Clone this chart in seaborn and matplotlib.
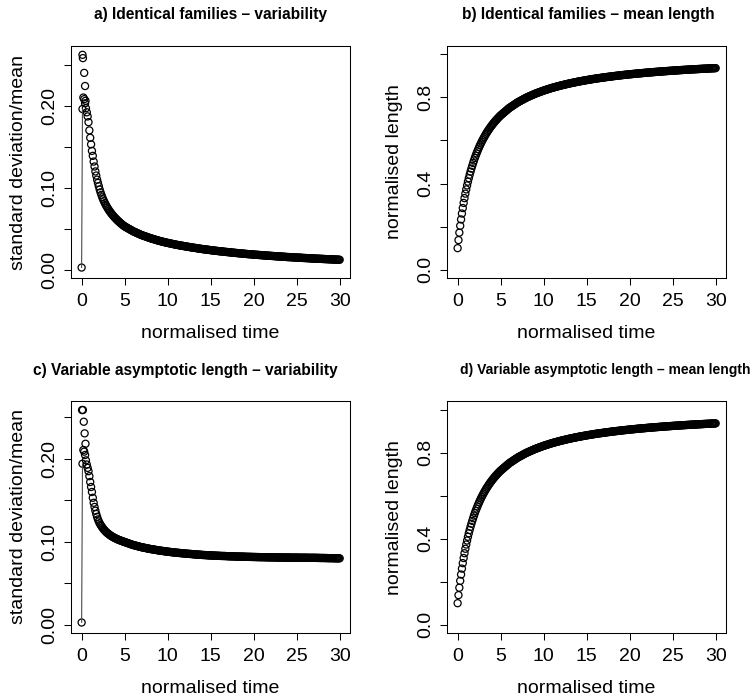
import matplotlib
matplotlib.use("Agg")
import matplotlib.pyplot as plt
import seaborn as sns

# ---------------- data ----------------
time = [
    0.0, 0.1, 0.2, 0.3, 0.4, 0.5, 0.6, 0.7, 0.8, 0.9,
    1.0, 1.1, 1.2, 1.3, 1.4, 1.5, 1.6, 1.7, 1.8, 1.9,
    2.0, 2.1, 2.2, 2.3, 2.4, 2.5, 2.6, 2.7, 2.8, 2.9,
    3.0, 3.1, 3.2, 3.3, 3.4, 3.5, 3.6, 3.7, 3.8, 3.9,
    4.0, 4.1, 4.2, 4.3, 4.4, 4.5, 4.6, 4.7, 4.8, 4.9,
    5.0, 5.1, 5.2, 5.3, 5.4, 5.5, 5.6, 5.7, 5.8, 5.9,
    6.0, 6.1, 6.2, 6.3, 6.4, 6.5, 6.6, 6.7, 6.8, 6.9,
    7.0, 7.1, 7.2, 7.3, 7.4, 7.5, 7.6, 7.7, 7.8, 7.9,
    8.0, 8.1, 8.2, 8.3, 8.4, 8.5, 8.6, 8.7, 8.8, 8.9,
    9.0, 9.1, 9.2, 9.3, 9.4, 9.5, 9.6, 9.7, 9.8, 9.9,
    10.0, 10.1, 10.2, 10.3, 10.4, 10.5, 10.6, 10.7, 10.8, 10.9,
    11.0, 11.1, 11.2, 11.3, 11.4, 11.5, 11.6, 11.7, 11.8, 11.9,
    12.0, 12.1, 12.2, 12.3, 12.4, 12.5, 12.6, 12.7, 12.8, 12.9,
    13.0, 13.1, 13.2, 13.3, 13.4, 13.5, 13.6, 13.7, 13.8, 13.9,
    14.0, 14.1, 14.2, 14.3, 14.4, 14.5, 14.6, 14.7, 14.8, 14.9,
    15.0, 15.1, 15.2, 15.3, 15.4, 15.5, 15.6, 15.7, 15.8, 15.9,
    16.0, 16.1, 16.2, 16.3, 16.4, 16.5, 16.6, 16.7, 16.8, 16.9,
    17.0, 17.1, 17.2, 17.3, 17.4, 17.5, 17.6, 17.7, 17.8, 17.9,
    18.0, 18.1, 18.2, 18.3, 18.4, 18.5, 18.6, 18.7, 18.8, 18.9,
    19.0, 19.1, 19.2, 19.3, 19.4, 19.5, 19.6, 19.7, 19.8, 19.9,
    20.0, 20.1, 20.2, 20.3, 20.4, 20.5, 20.6, 20.7, 20.8, 20.9,
    21.0, 21.1, 21.2, 21.3, 21.4, 21.5, 21.6, 21.7, 21.8, 21.9,
    22.0, 22.1, 22.2, 22.3, 22.4, 22.5, 22.6, 22.7, 22.8, 22.9,
    23.0, 23.1, 23.2, 23.3, 23.4, 23.5, 23.6, 23.7, 23.8, 23.9,
    24.0, 24.1, 24.2, 24.3, 24.4, 24.5, 24.6, 24.7, 24.8, 24.9,
    25.0, 25.1, 25.2, 25.3, 25.4, 25.5, 25.6, 25.7, 25.8, 25.9,
    26.0, 26.1, 26.2, 26.3, 26.4, 26.5, 26.6, 26.7, 26.8, 26.9,
    27.0, 27.1, 27.2, 27.3, 27.4, 27.5, 27.6, 27.7, 27.8, 27.9,
    28.0, 28.1, 28.2, 28.3, 28.4, 28.5, 28.6, 28.7, 28.8, 28.9,
    29.0, 29.1, 29.2, 29.3, 29.4, 29.5, 29.6, 29.7, 29.8, 29.9,
    30.0,
]

# a) identical families: standard deviation / mean
cv_identical = [
    0.003, 0.196, 0.210, 0.208, 0.203, 0.197, 0.192, 0.187, 0.180, 0.170,
    0.161, 0.153, 0.145, 0.139, 0.132, 0.126, 0.120, 0.115, 0.110, 0.106,
    0.102, 0.098, 0.0945, 0.0915, 0.0885, 0.0860, 0.0837, 0.0815, 0.0795, 0.0776,
    0.0758, 0.0741, 0.0725, 0.0710, 0.0696, 0.0682, 0.0669, 0.0657, 0.0645, 0.0634,
    0.0623, 0.0612, 0.0602, 0.0592, 0.0582, 0.0573, 0.0564, 0.0555, 0.0547, 0.0539,
    0.0531, 0.0525, 0.0519, 0.0513, 0.0507, 0.0501, 0.0495, 0.0489, 0.0483, 0.0477,
    0.0471, 0.0466, 0.0462, 0.0457, 0.0452, 0.0447, 0.0443, 0.0438, 0.0433, 0.0428,
    0.0424, 0.0420, 0.0417, 0.0413, 0.0410, 0.0406, 0.0402, 0.0398, 0.0395, 0.0391,
    0.0387, 0.0384, 0.0381, 0.0378, 0.0375, 0.0371, 0.0368, 0.0365, 0.0362, 0.0359,
    0.0356, 0.0353, 0.0351, 0.0348, 0.0345, 0.0342, 0.0340, 0.0337, 0.0335, 0.0332,
    0.0330, 0.0328, 0.0326, 0.0323, 0.0321, 0.0319, 0.0317, 0.0314, 0.0312, 0.0310,
    0.0308, 0.0306, 0.0304, 0.0302, 0.0300, 0.0298, 0.0297, 0.0295, 0.0293, 0.0291,
    0.0289, 0.0287, 0.0286, 0.0284, 0.0282, 0.0280, 0.0279, 0.0277, 0.0275, 0.0273,
    0.0272, 0.0270, 0.0269, 0.0267, 0.0266, 0.0264, 0.0262, 0.0260, 0.0259, 0.0257,
    0.0256, 0.0254, 0.0253, 0.0251, 0.0250, 0.0249, 0.0248, 0.0246, 0.0245, 0.0243,
    0.0242, 0.0240, 0.0239, 0.0238, 0.0237, 0.0235, 0.0234, 0.0233, 0.0232, 0.0230,
    0.0229, 0.0228, 0.0227, 0.0226, 0.0225, 0.0223, 0.0222, 0.0221, 0.0220, 0.0219,
    0.0218, 0.0217, 0.0216, 0.0214, 0.0213, 0.0212, 0.0211, 0.0210, 0.0209, 0.0208,
    0.0207, 0.0206, 0.0205, 0.0204, 0.0203, 0.0202, 0.0201, 0.0200, 0.0199, 0.0198,
    0.0197, 0.0196, 0.0195, 0.0194, 0.0193, 0.0192, 0.0192, 0.0191, 0.0190, 0.0189,
    0.0188, 0.0187, 0.0186, 0.0185, 0.0185, 0.0184, 0.0183, 0.0182, 0.0182, 0.0181,
    0.0180, 0.0179, 0.0178, 0.0177, 0.0177, 0.0176, 0.0175, 0.0174, 0.0174, 0.0173,
    0.0172, 0.0171, 0.0171, 0.0170, 0.0169, 0.0168, 0.0168, 0.0167, 0.0166, 0.0165,
    0.0165, 0.0164, 0.0164, 0.0163, 0.0162, 0.0161, 0.0161, 0.0160, 0.0159, 0.0158,
    0.0158, 0.0157, 0.0157, 0.0156, 0.0156, 0.0155, 0.0154, 0.0153, 0.0153, 0.0152,
    0.0152, 0.0151, 0.0151, 0.0150, 0.0150, 0.0149, 0.0148, 0.0147, 0.0147, 0.0146,
    0.0146, 0.0145, 0.0145, 0.0144, 0.0144, 0.0143, 0.0142, 0.0141, 0.0141, 0.0140,
    0.0140, 0.0139, 0.0139, 0.0138, 0.0138, 0.0137, 0.0137, 0.0136, 0.0136, 0.0135,
    0.0135, 0.0134, 0.0134, 0.0133, 0.0133, 0.0132, 0.0132, 0.0131, 0.0131, 0.0130,
    0.0130, 0.0129, 0.0129, 0.0128, 0.0128, 0.0127, 0.0127, 0.0126, 0.0126, 0.0125,
    0.0125,
]

# c) variable asymptotic length: standard deviation / mean
cv_variable = [
    0.003, 0.194, 0.2105, 0.2085, 0.2045, 0.198, 0.193, 0.189, 0.185, 0.179,
    0.172, 0.166, 0.160, 0.153, 0.147, 0.142, 0.1375, 0.1335, 0.130, 0.127,
    0.1245, 0.1223, 0.1205, 0.1189, 0.1174, 0.1160, 0.1147, 0.1135, 0.1124, 0.1114,
    0.1105, 0.1097, 0.1089, 0.1081, 0.1074, 0.1067, 0.1061, 0.1055, 0.1049, 0.1044,
    0.1039, 0.1034, 0.1029, 0.1025, 0.1021, 0.1017, 0.1013, 0.1009, 0.1005, 0.1002,
    0.0998, 0.0994, 0.0991, 0.0987, 0.0984, 0.0980, 0.0976, 0.0972, 0.0969, 0.0965,
    0.0962, 0.0959, 0.0957, 0.0954, 0.0951, 0.0948, 0.0946, 0.0943, 0.0940, 0.0937,
    0.0935, 0.0933, 0.0931, 0.0929, 0.0927, 0.0924, 0.0922, 0.0920, 0.0918, 0.0916,
    0.0914, 0.0912, 0.0911, 0.0909, 0.0907, 0.0905, 0.0904, 0.0902, 0.0900, 0.0898,
    0.0897, 0.0895, 0.0894, 0.0892, 0.0891, 0.0889, 0.0888, 0.0886, 0.0885, 0.0883,
    0.0882, 0.0881, 0.0880, 0.0878, 0.0877, 0.0876, 0.0875, 0.0873, 0.0872, 0.0871,
    0.0870, 0.0869, 0.0868, 0.0867, 0.0866, 0.0865, 0.0864, 0.0863, 0.0862, 0.0861,
    0.0860, 0.0859, 0.0858, 0.0857, 0.0856, 0.0855, 0.0855, 0.0854, 0.0853, 0.0852,
    0.0851, 0.0850, 0.0849, 0.0848, 0.0848, 0.0847, 0.0846, 0.0845, 0.0845, 0.0844,
    0.0843, 0.0842, 0.0842, 0.0841, 0.0841, 0.0840, 0.0839, 0.0838, 0.0838, 0.0837,
    0.0837, 0.0836, 0.0836, 0.0835, 0.0835, 0.0834, 0.0834, 0.0833, 0.0833, 0.0832,
    0.0832, 0.0831, 0.0831, 0.0830, 0.0830, 0.0830, 0.0830, 0.0829, 0.0829, 0.0828,
    0.0828, 0.0827, 0.0827, 0.0826, 0.0826, 0.0826, 0.0826, 0.0825, 0.0825, 0.0824,
    0.0824, 0.0823, 0.0823, 0.0823, 0.0823, 0.0822, 0.0822, 0.0822, 0.0822, 0.0821,
    0.0821, 0.0820, 0.0820, 0.0820, 0.0820, 0.0819, 0.0819, 0.0819, 0.0819, 0.0818,
    0.0818, 0.0818, 0.0818, 0.0817, 0.0817, 0.0817, 0.0817, 0.0816, 0.0816, 0.0816,
    0.0816, 0.0816, 0.0816, 0.0815, 0.0815, 0.0815, 0.0815, 0.0814, 0.0814, 0.0814,
    0.0814, 0.0814, 0.0814, 0.0813, 0.0813, 0.0813, 0.0813, 0.0812, 0.0812, 0.0812,
    0.0812, 0.0812, 0.0812, 0.0812, 0.0812, 0.0811, 0.0811, 0.0811, 0.0811, 0.0811,
    0.0811, 0.0811, 0.0811, 0.0810, 0.0810, 0.0810, 0.0810, 0.0810, 0.0810, 0.0810,
    0.0810, 0.0810, 0.0810, 0.0809, 0.0809, 0.0809, 0.0809, 0.0809, 0.0809, 0.0809,
    0.0809, 0.0809, 0.0809, 0.0808, 0.0808, 0.0808, 0.0808, 0.0808, 0.0808, 0.0808,
    0.0808, 0.0808, 0.0808, 0.0807, 0.0807, 0.0807, 0.0807, 0.0806, 0.0806, 0.0806,
    0.0806, 0.0806, 0.0806, 0.0805, 0.0805, 0.0805, 0.0805, 0.0804, 0.0804, 0.0804,
    0.0804, 0.0804, 0.0804, 0.0803, 0.0803, 0.0803, 0.0803, 0.0802, 0.0802, 0.0802,
    0.0802,
]

# b) and d) normalised mean length (the two panels look identical)
mean_length = [
    0.100, 0.1375, 0.172, 0.2038, 0.2333, 0.2607, 0.2862, 0.310, 0.3323, 0.3531,
    0.3727, 0.3912, 0.4086, 0.425, 0.4405, 0.4553, 0.4692, 0.4825, 0.4951, 0.5071,
    0.5186, 0.5295, 0.540, 0.550, 0.5596, 0.5688, 0.5776, 0.586, 0.5941, 0.6019,
    0.6094, 0.6167, 0.6236, 0.6304, 0.6368, 0.6431, 0.6492, 0.655, 0.6607, 0.6661,
    0.6714, 0.6766, 0.6815, 0.6864, 0.6910, 0.6956, 0.700, 0.7043, 0.7085, 0.7125,
    0.7164, 0.7198, 0.7232, 0.7267, 0.7301, 0.7335, 0.7369, 0.7403, 0.7437, 0.7472,
    0.7506, 0.7533, 0.7560, 0.7587, 0.7613, 0.7640, 0.7667, 0.7694, 0.7720, 0.7747,
    0.7774, 0.7796, 0.7817, 0.7839, 0.7860, 0.7882, 0.7904, 0.7926, 0.7947, 0.7969,
    0.7990, 0.8008, 0.8026, 0.8044, 0.8061, 0.8079, 0.8097, 0.8115, 0.8132, 0.8150,
    0.8168, 0.8183, 0.8198, 0.8213, 0.8228, 0.8243, 0.8257, 0.8272, 0.8287, 0.8302,
    0.8317, 0.8330, 0.8342, 0.8355, 0.8368, 0.8381, 0.8393, 0.8406, 0.8419, 0.8432,
    0.8444, 0.8455, 0.8466, 0.8477, 0.8487, 0.8498, 0.8509, 0.8520, 0.8530, 0.8541,
    0.8552, 0.8562, 0.8571, 0.8581, 0.8590, 0.8600, 0.8609, 0.8619, 0.8628, 0.8638,
    0.8647, 0.8656, 0.8664, 0.8672, 0.8680, 0.8689, 0.8697, 0.8705, 0.8713, 0.8722,
    0.8730, 0.8738, 0.8745, 0.8752, 0.8759, 0.8767, 0.8774, 0.8781, 0.8788, 0.8796,
    0.8803, 0.8810, 0.8816, 0.8823, 0.8829, 0.8836, 0.8843, 0.8850, 0.8856, 0.8863,
    0.8869, 0.8875, 0.8881, 0.8887, 0.8892, 0.8898, 0.8904, 0.8910, 0.8915, 0.8921,
    0.8927, 0.8933, 0.8938, 0.8943, 0.8948, 0.8954, 0.8959, 0.8964, 0.8969, 0.8975,
    0.8980, 0.8985, 0.8990, 0.8995, 0.8999, 0.9004, 0.9009, 0.9014, 0.9018, 0.9023,
    0.9028, 0.9033, 0.9037, 0.9042, 0.9046, 0.9050, 0.9054, 0.9059, 0.9063, 0.9068,
    0.9072, 0.9076, 0.9080, 0.9084, 0.9088, 0.9092, 0.9096, 0.9100, 0.9104, 0.9108,
    0.9112, 0.9116, 0.9119, 0.9123, 0.9126, 0.9130, 0.9134, 0.9138, 0.9141, 0.9145,
    0.9148, 0.9152, 0.9155, 0.9159, 0.9162, 0.9165, 0.9168, 0.9172, 0.9175, 0.9179,
    0.9182, 0.9185, 0.9188, 0.9191, 0.9194, 0.9198, 0.9201, 0.9204, 0.9207, 0.9210,
    0.9213, 0.9216, 0.9219, 0.9222, 0.9225, 0.9228, 0.9230, 0.9233, 0.9236, 0.9239,
    0.9242, 0.9245, 0.9247, 0.9250, 0.9253, 0.9256, 0.9258, 0.9261, 0.9264, 0.9267,
    0.9269, 0.9272, 0.9274, 0.9277, 0.9279, 0.9282, 0.9284, 0.9287, 0.9289, 0.9292,
    0.9294, 0.9297, 0.9299, 0.9301, 0.9303, 0.9306, 0.9308, 0.9310, 0.9312, 0.9315,
    0.9317, 0.9319, 0.9321, 0.9324, 0.9326, 0.9328, 0.9330, 0.9333, 0.9335, 0.9337,
    0.9339, 0.9341, 0.9343, 0.9345, 0.9347, 0.9349, 0.9351, 0.9353, 0.9355, 0.9357,
    0.9359,
]

# scattered early points near t = 0
early_time_identical = [0.1, 0.15, 0.3, 0.4, 0.45]
early_cv_identical = [0.262, 0.258, 0.240, 0.224, 0.206]
early_time_variable = [0.05, 0.15, 0.25, 0.35, 0.45]
early_cv_variable = [0.2586, 0.2586, 0.2445, 0.2305, 0.218]

titles = [
    "a) Identical families \u2013 variability",
    "b) Identical families \u2013 mean length",
    "c) Variable asymptotic length \u2013 variability",
    "d) Variable asymptotic length \u2013 mean length",
]
x_label = "normalised time"
cv_label = "standard deviation/mean"
len_label = "normalised length"

x_ticks = [0, 5, 10, 15, 20, 25, 30]
x_tick_labels = ["0", "5", "10", "15", "20", "25", "30"]
cv_ticks = [0.0, 0.05, 0.10, 0.15, 0.20, 0.25]
cv_tick_labels = ["0.00", "", "0.10", "", "0.20", ""]
len_ticks = [0.0, 0.2, 0.4, 0.6, 0.8, 1.0]
len_tick_labels = ["0.0", "", "0.4", "", "0.8", ""]

# ---------------- styling ----------------
sns.set_style("ticks")
plt.rcParams["font.family"] = ["Liberation Sans", "DejaVu Sans"]
plt.rcParams["axes.edgecolor"] = "black"
plt.rcParams["xtick.color"] = "black"
plt.rcParams["ytick.color"] = "black"
plt.rcParams["text.color"] = "black"
plt.rcParams["axes.labelcolor"] = "black"

W, H = 753.0, 697.0
fig = plt.figure(figsize=(W / 100, H / 100), dpi=100)
fig.patch.set_facecolor("white")


def rect(l, t, r, b):
    return [l / W, 1 - b / H, (r - l) / W, (b - t) / H]


boxes = [
    (71.3, 45.7, 350.0, 278.3),
    (447.3, 45.7, 726.0, 278.3),
    (71.3, 400.7, 350.0, 633.3),
    (447.3, 401.0, 726.0, 633.3),
]
# (x, y, horizontal alignment, font size) of each panel title
title_pos = [(211, 14, "center", 11.2), (588, 14, "center", 11.2),
             (185, 370, "center", 11.2), (751, 370, "right", 10.0)]

panels = [
    (time, cv_identical, early_time_identical, early_cv_identical,
     cv_ticks, cv_tick_labels, (-0.0101, 0.2731), cv_label, True),
    (time, mean_length, None, None,
     len_ticks, len_tick_labels, (-0.04, 1.04), len_label, False),
    (time, cv_variable, early_time_variable, early_cv_variable,
     cv_ticks, cv_tick_labels, (-0.0100, 0.2698), cv_label, True),
    (time, mean_length, None, None,
     len_ticks, len_tick_labels, (-0.04, 1.04), len_label, False),
]


def hollow(ax, x, y):
    sns.scatterplot(x=x, y=y, ax=ax, marker="o", s=26,
                    facecolor="none", edgecolor="black",
                    linewidth=0.9, legend=False)
    coll = ax.collections[-1]
    coll.set_facecolor("none")
    coll.set_edgecolor("black")
    coll.set_linewidth(0.9)


for i, (box, panel) in enumerate(zip(boxes, panels)):
    t, y, et, ey, yt, ytl, ylim, ylab, first_seg = panel
    ax = fig.add_axes(rect(*box))
    ax.set_facecolor("white")
    if first_seg:
        sns.lineplot(x=t[:2], y=y[:2], ax=ax, color="#4a4a4a",
                     linewidth=0.8, estimator=None, sort=False)
    hollow(ax, t, y)
    if et is not None:
        hollow(ax, et, ey)

    ax.set_xlim(-1.2, 31.2)
    ax.set_ylim(*ylim)
    ax.set_xticks(x_ticks)
    ax.set_xticklabels(x_tick_labels)
    ax.set_yticks(yt)
    ax.set_yticklabels(ytl, rotation=90, va="center")
    ax.tick_params(axis="both", direction="out", length=5, width=0.75,
                   labelsize=14)
    ax.tick_params(axis="x", pad=5.5)
    ax.tick_params(axis="y", pad=4.5)
    for sp in ax.spines.values():
        sp.set_visible(True)
        sp.set_linewidth(0.75)
        sp.set_color("black")

    ax.set_xlabel(x_label, fontsize=14)
    ax.set_ylabel(ylab, fontsize=14)
    bw = box[2] - box[0]
    bh = box[3] - box[1]
    ax.xaxis.set_label_coords(0.5, -46.5 / bh)
    ax.yaxis.set_label_coords(-44.0 / bw, 0.5)

    tx, ty, tha, tfs = title_pos[i]
    fig.text(tx / W, 1 - ty / H, titles[i], ha=tha, va="center",
             fontsize=tfs, fontweight="bold")

fig.savefig("out.png", dpi=100, facecolor="white")
